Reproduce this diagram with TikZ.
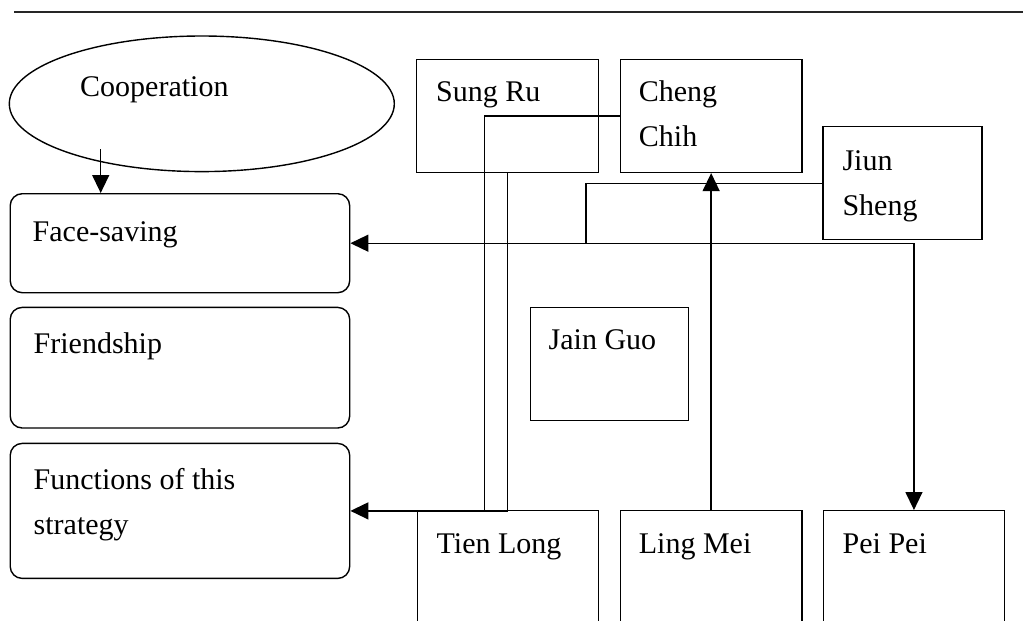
\documentclass[tikz,border=0pt]{standalone}
\usepackage{fontspec}
\setmainfont{Liberation Serif}
\usetikzlibrary{shapes.geometric,arrows.meta}
\newcommand{\twoline}[2]{\vtop{\baselineskip=45pt\hbox{#1}\hbox{#2}}}
\tikzset{
  every node/.style={font=\fontsize{30}{45}\selectfont},
  sqbox/.style={draw, line width=1.4pt, minimum width=181.5pt, minimum height=113pt, anchor=north west, inner sep=0pt},
  rbox/.style={draw, line width=1.4pt, rounded corners=12pt, minimum width=339.5pt, anchor=north west, inner sep=0pt},
  txt/.style={anchor=base west, inner sep=0pt},
  conn/.style={line width=1.4pt},
  arr/.style={line width=1.4pt, -{Triangle[length=18pt,width=17pt]}},
}
\begin{document}
\begin{tikzpicture}[x=1pt,y=-1pt]
\path[use as bounding box] (0,0) rectangle (1023,621);
\begin{scope}
\clip (0,0) rectangle (1023,621);
% top rule
\coordinate (r0) at (14,12.4);
\coordinate (r1) at (1023,12.4);
\draw[line width=2pt, black!85] (r0) -- (r1);

% ellipse
\node[ellipse, draw, line width=1.4pt, minimum width=385pt, minimum height=135.6pt, inner sep=0pt] (coop) at (201.8,103.8) {};
\node[txt] (coopT) at (80,96.5) {Cooperation};

% rounded boxes
\node[rbox, minimum height=99pt] (face) at (9.5,193) {};
\node[txt] (faceT) at ([shift={(23,48)}]face.north west) {Face-saving};
\node[rbox, minimum height=120.6pt] (friend) at (9.5,306.7) {};
\node[txt] (friendT) at ([shift={(24,47)}]friend.north west) {Friendship};
\node[rbox, minimum height=135pt] (func) at (9.5,442.7) {};
\node[txt] (funcT) at ([shift={(24,47)}]func.north west) {\twoline{Functions of this}{strategy}};

% square boxes
\node[sqbox] (sung) at (416,58.7) {};
\node[txt] (sungT) at ([shift={(20,43)}]sung.north west) {Sung Ru};
\node[sqbox] (cheng) at (619.7,58.7) {};
\node[txt] (chengT) at ([shift={(19,43)}]cheng.north west) {\twoline{Cheng}{Chih}};
\node[sqbox, minimum width=159pt] (jiun) at (822.3,126) {};
\node[txt] (jiunT) at ([shift={(20,44)}]jiun.north west) {\twoline{Jiun}{Sheng}};
\node[sqbox, minimum width=158pt] (jain) at (529.5,306.7) {};
\node[txt] (jainT) at ([shift={(19,43)}]jain.north west) {Jain Guo};
\node[sqbox, minimum height=160pt] (tien) at (416.5,510) {};
\node[txt] (tienT) at ([shift={(20,43)}]tien.north west) {Tien Long};
\node[sqbox, minimum height=160pt] (ling) at (619.7,510) {};
\node[txt] (lingT) at ([shift={(19,43)}]ling.north west) {Ling Mei};
\node[sqbox, minimum height=160pt] (pei) at (822.5,510) {};
\node[txt] (peiT) at ([shift={(20,43)}]pei.north west) {Pei Pei};

% connectors
\coordinate (c1) at (100.7,149);
\draw[arr] (c1) -- (c1 |- face.north);

\coordinate (jx) at (586,0);
\coordinate (jn) at (jx |- face.east);
\draw[conn] (jiun.west) -- (jx |- jiun.west) -- (jn);
\draw[arr] (jn) -- (face.east);
\draw[arr] (jn) -- (pei.north |- face.east) -- (pei.north);

\draw[arr] (ling.north) -- (cheng.south);

\coordinate (cx) at (484.2,0);
\draw[arr] (cheng.west) -- (cx |- cheng.west) -- (cx |- func.east) -- (func.east);
\draw[conn] (sung.south) -- (sung.south |- func.east) -- (cx |- func.east);
\end{scope}
\end{tikzpicture}
\end{document}
